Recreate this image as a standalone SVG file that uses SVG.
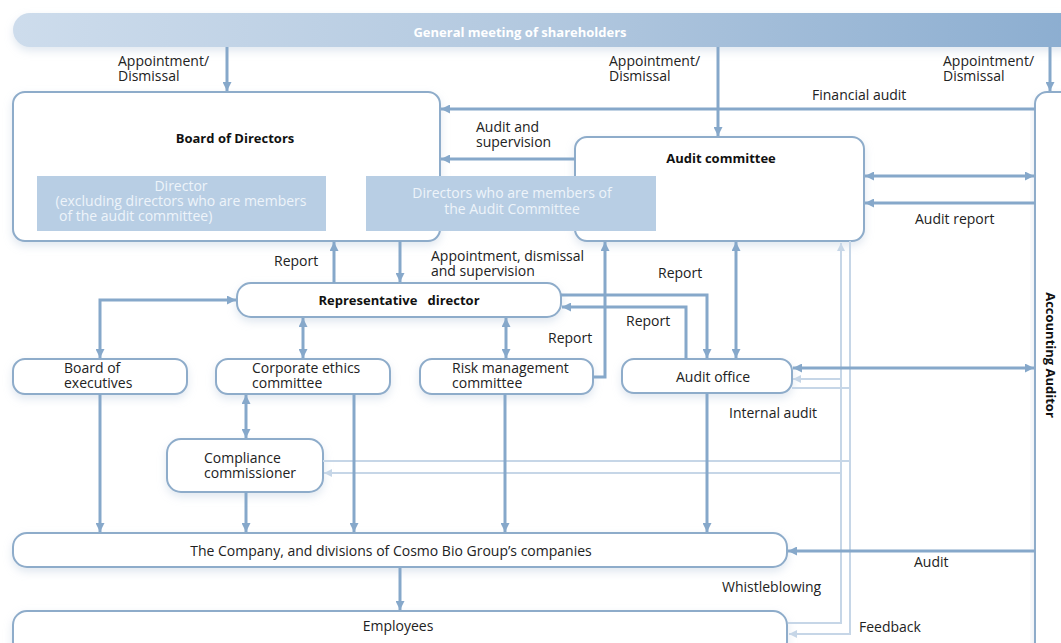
<svg xmlns="http://www.w3.org/2000/svg" width="1061" height="643" viewBox="0 0 1061 643">
<style>
  .box{fill:#ffffff;stroke:#8eacca;stroke-width:2;filter:url(#sh)}
  .t{font-family:"Open Sans","Noto Sans",sans-serif;font-size:14px;fill:#222}
  .b{font-family:"Open Sans","Noto Sans",sans-serif;font-size:13px;font-weight:bold;fill:#111}
  .inner{fill:#b8cee4}
  .it{font-family:"Open Sans","Noto Sans",sans-serif;font-size:14px;fill:#eef4fa}
  .d{fill:none;stroke:#86a8ca;stroke-width:3}
  .l{fill:none;stroke:#c6d6e7;stroke-width:2}
</style>
<defs>
  <linearGradient id="bar" x1="0" y1="0" x2="1" y2="0">
    <stop offset="0" stop-color="#cddcec"/>
    <stop offset="0.5" stop-color="#b2c8df"/>
    <stop offset="1" stop-color="#8badd0"/>
  </linearGradient>
  <filter id="sh" x="-10%" y="-20%" width="120%" height="160%">
    <feDropShadow dx="0" dy="4" stdDeviation="4" flood-color="#a9bdd3" flood-opacity="0.35"/>
  </filter>
  <marker id="a" viewBox="0 0 10 10" refX="10" refY="5" markerWidth="10" markerHeight="9" orient="auto-start-reverse" markerUnits="userSpaceOnUse">
    <path d="M0,0 L10,5 L0,10 z" fill="#86a8ca"/>
  </marker>
  <marker id="al" viewBox="0 0 10 10" refX="10" refY="5" markerWidth="9" markerHeight="8" orient="auto-start-reverse" markerUnits="userSpaceOnUse">
    <path d="M0,0 L10,5 L0,10 z" fill="#c6d6e7"/>
  </marker>
</defs>
<rect width="1061" height="643" fill="#ffffff"/>

<g id="shareholders">
  <rect x="13" y="13" width="1070" height="34" rx="17" fill="url(#bar)" filter="url(#sh)"/>
  <text x="520" y="37" class="b" style="fill:#ffffff" text-anchor="middle">General meeting of shareholders</text>
</g>

<g id="board">
  <rect class="box" x="13" y="92" width="427" height="149" rx="12"/>
  <text class="b" x="235" y="143" text-anchor="middle">Board of Directors</text>
</g>

<g id="audit-committee">
  <rect class="box" x="575" y="137" width="289" height="104" rx="12"/>
  <text class="b" x="721" y="163" text-anchor="middle">Audit committee</text>
</g>

<g id="board-directors">
  <rect class="inner" x="37" y="176" width="289" height="55"/>
  <text class="it"><tspan x="181" y="191" text-anchor="middle">Director</tspan><tspan x="181" y="206" text-anchor="middle">(excluding directors who are members</tspan><tspan x="59" y="221">of the audit committee)</tspan></text>
</g>

<g id="board-audit-members">
  <rect class="inner" x="366" y="176" width="290" height="55"/>
  <text class="it" text-anchor="middle"><tspan x="512" y="198">Directors who are members of</tspan><tspan x="512" y="214">the Audit Committee</tspan></text>
</g>

<g id="accounting-auditor">
  <rect class="box" x="1035" y="92" width="50" height="565" rx="12"/>
  <text class="b" x="0" y="0" text-anchor="middle" transform="translate(1046,355) rotate(90)">Accounting Auditor</text>
</g>

<g id="representative-director">
  <rect class="box" x="237" y="283" width="324" height="34" rx="14"/>
  <text class="b" x="399" y="305" text-anchor="middle" xml:space="preserve">Representative   director</text>
</g>

<g id="board-of-executives">
  <rect class="box" x="13" y="359" width="174" height="35" rx="12"/>
  <text class="t"><tspan x="64" y="373">Board of</tspan><tspan x="64" y="388">executives</tspan></text>
</g>

<g id="corporate-ethics">
  <rect class="box" x="216" y="359" width="174" height="35" rx="12"/>
  <text class="t"><tspan x="252" y="373">Corporate ethics</tspan><tspan x="252" y="388">committee</tspan></text>
</g>

<g id="risk-management">
  <rect class="box" x="420" y="359" width="173" height="35" rx="12"/>
  <text class="t"><tspan x="452" y="373">Risk management</tspan><tspan x="452" y="388">committee</tspan></text>
</g>

<g id="audit-office">
  <rect class="box" x="622" y="359" width="170" height="34" rx="12"/>
  <text class="t" x="676" y="382">Audit office</text>
</g>

<g id="compliance-commissioner">
  <rect class="box" x="167" y="439" width="156" height="53" rx="14"/>
  <text class="t"><tspan x="204" y="463">Compliance</tspan><tspan x="204" y="478">commissioner</tspan></text>
</g>

<g id="company">
  <rect class="box" x="13" y="533" width="774" height="34" rx="14"/>
  <text class="t" x="391" y="556" text-anchor="middle">The Company, and divisions of Cosmo Bio Group’s companies</text>
</g>

<g id="employees">
  <rect class="box" x="13" y="611" width="774" height="45" rx="14"/>
  <text class="t" x="398" y="631" text-anchor="middle">Employees</text>
</g>

<g id="connectors">
  <path class="l" d="M788,623 H841 V243" marker-end="url(#al)"/>
  <path class="l" d="M841,379 H793" marker-end="url(#al)"/>
  <path class="l" d="M841,473 H324" marker-end="url(#al)"/>
  <path class="l" d="M850,241 V634 H789" marker-end="url(#al)"/>
  <path class="l" d="M792,388 H850"/>
  <path class="l" d="M323,461 H850"/>

  <path class="d" d="M227,47 V91" marker-end="url(#a)"/>
  <path class="d" d="M718,47 V136" marker-end="url(#a)"/>
  <path class="d" d="M1050,47 V91" marker-end="url(#a)"/>
  <path class="d" d="M1035,109 H441" marker-end="url(#a)"/>
  <path class="d" d="M575,159 H441" marker-end="url(#a)"/>
  <path class="d" d="M865,176 H1034" marker-start="url(#a)" marker-end="url(#a)"/>
  <path class="d" d="M1035,203 H865" marker-end="url(#a)"/>
  <path class="d" d="M334,283 V242" marker-end="url(#a)"/>
  <path class="d" d="M400,241 V282" marker-end="url(#a)"/>
  <path class="d" d="M236,300 H100 V358" marker-start="url(#a)" marker-end="url(#a)"/>
  <path class="d" d="M303,318 V358" marker-start="url(#a)" marker-end="url(#a)"/>
  <path class="d" d="M506,318 V358" marker-start="url(#a)" marker-end="url(#a)"/>
  <path class="d" d="M593,377 H605 V242" marker-end="url(#a)"/>
  <path class="d" d="M561,295 H707 V358" marker-end="url(#a)"/>
  <path class="d" d="M686,359 V307 H562" marker-end="url(#a)"/>
  <path class="d" d="M736,242 V358" marker-start="url(#a)" marker-end="url(#a)"/>
  <path class="d" d="M793,368 H1034" marker-start="url(#a)" marker-end="url(#a)"/>
  <path class="d" d="M100,394 V532" marker-end="url(#a)"/>
  <path class="d" d="M246,492 V532" marker-end="url(#a)"/>
  <path class="d" d="M354,394 V532" marker-end="url(#a)"/>
  <path class="d" d="M505,394 V532" marker-end="url(#a)"/>
  <path class="d" d="M707,393 V532" marker-end="url(#a)"/>
  <path class="d" d="M246,395 V438" marker-start="url(#a)" marker-end="url(#a)"/>
  <path class="d" d="M400,568 V610" marker-end="url(#a)"/>
  <path class="d" d="M1035,551 H788" marker-end="url(#a)"/>
</g>

<g id="labels">
  <text class="t"><tspan x="118" y="66">Appointment/</tspan><tspan x="118" y="81">Dismissal</tspan></text>
  <text class="t"><tspan x="609" y="66">Appointment/</tspan><tspan x="609" y="81">Dismissal</tspan></text>
  <text class="t"><tspan x="943" y="66">Appointment/</tspan><tspan x="943" y="81">Dismissal</tspan></text>
  <text class="t" x="812" y="100">Financial audit</text>
  <text class="t"><tspan x="476" y="132">Audit and</tspan><tspan x="476" y="147">supervision</tspan></text>
  <text class="t" x="915" y="224">Audit report</text>
  <text class="t" x="274" y="266">Report</text>
  <text class="t"><tspan x="431" y="261">Appointment, dismissal</tspan><tspan x="431" y="276">and supervision</tspan></text>
  <text class="t" x="658" y="278">Report</text>
  <text class="t" x="626" y="326">Report</text>
  <text class="t" x="548" y="343">Report</text>
  <text class="t" x="729" y="418">Internal audit</text>
  <text class="t" x="914" y="567">Audit</text>
  <text class="t" x="722" y="592">Whistleblowing</text>
  <text class="t" x="859" y="632">Feedback</text>
</g>
</svg>
